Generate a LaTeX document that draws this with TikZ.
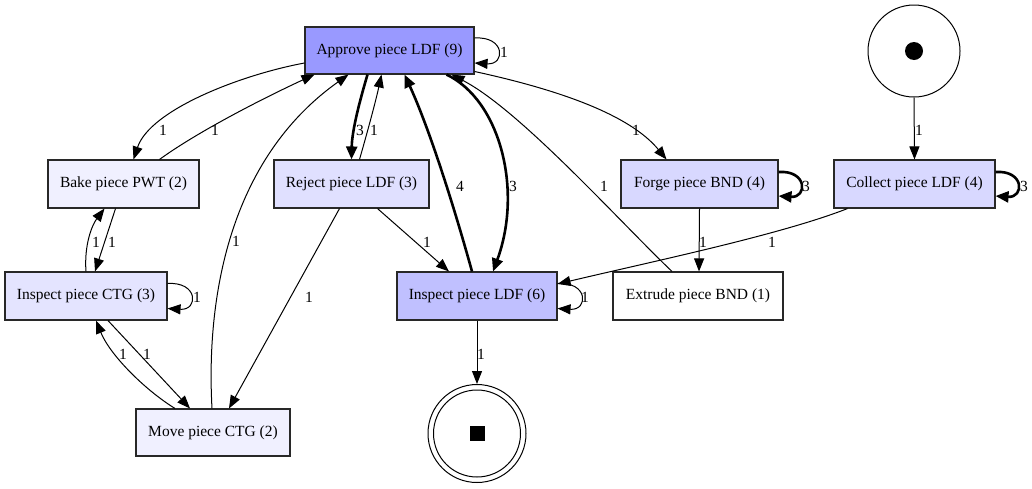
\documentclass[tikz,border=0pt]{standalone}
\usepackage{fontspec}
\setmainfont{Liberation Serif}
\usetikzlibrary{arrows.meta}
\definecolor{cA}{RGB}{153,153,255}
\definecolor{cIL}{RGB}{192,192,255}
\definecolor{cF}{RGB}{216,216,255}
\definecolor{cR}{RGB}{224,224,255}
\definecolor{cIC}{RGB}{228,228,255}
\definecolor{cB}{RGB}{240,240,255}
\definecolor{bord}{RGB}{40,40,40}
\begin{document}
\begin{tikzpicture}[x=1pt,y=1pt,
  font=\fontsize{15.5}{18}\selectfont,
  trans/.style={draw=bord,line width=1.1pt,rectangle,inner sep=0pt,minimum height=48pt},
  edge/.style={line width=1pt,-{Triangle[length=13pt,width=10pt]}},
  thick edge/.style={line width=2.6pt,-{Triangle[length=13pt,width=11pt]}},
  lbl/.style={inner sep=0pt}]
\useasboundingbox (0,0) rectangle (1032,-488);
\fill[white] (0,0) rectangle (1032,-488);
% transitions
\node[trans,fill=cA,minimum width=169pt,minimum height=47pt] (A) at (389.5,-50.5) {Approve piece LDF (9)};
\node[trans,fill=cB,minimum width=151pt] (B) at (123.5,-184) {Bake piece PWT (2)};
\node[trans,fill=cIC,minimum width=162pt] (IC) at (86,-296) {Inspect piece CTG (3)};
\node[trans,fill=cB,minimum width=154pt,minimum height=47pt] (M) at (213,-432.5) {Move piece CTG (2)};
\node[trans,fill=cR,minimum width=155pt] (R) at (351.5,-184) {Reject piece LDF (3)};
\node[trans,fill=cIL,minimum width=160pt] (IL) at (477,-296) {Inspect piece LDF (6)};
\node[trans,fill=cF,minimum width=157pt] (F) at (699.5,-184) {Forge piece BND (4)};
\node[trans,fill=cF,minimum width=161pt] (C) at (914.5,-184) {Collect piece LDF (4)};
\node[trans,fill=white,minimum width=170pt] (E) at (698,-296) {Extrude piece BND (1)};
% places
\node[draw,circle,line width=1pt,minimum size=92pt,inner sep=0pt] (S) at (914,-51) {};
\node[fill=black,circle,minimum size=18pt,inner sep=0pt] (Sdot) at (S.center) {};
\node[draw,circle,line width=1pt,minimum size=98pt,inner sep=0pt] (End) at (477,-433.5) {};
\node[draw,circle,line width=1pt,minimum size=87pt,inner sep=0pt] (Endin) at (End.center) {};
\node[fill=black,rectangle,minimum size=15pt,inner sep=0pt] (Endsq) at (End.center) {};
% edges
\draw[edge] ([yshift=-12.5pt]A.west) .. controls (240,-75) and (150,-110) .. ([xshift=10pt]B.north);
\draw[edge] ([xshift=36pt]B.north) .. controls (200,-130) and (270,-95) .. ([xshift=-75pt]A.south);
\draw[edge] ([xshift=-1pt]M.north) .. controls (206,-300) and (228,-160) .. ([xshift=-41pt]A.south);
\draw[thick edge] ([xshift=-22pt]A.south) .. controls (360,-100) and (352,-130) .. (R.north);
\draw[edge] ([xshift=8pt]R.north) .. controls (368,-130) and (376,-100) .. ([xshift=-8pt]A.south);
\draw[thick edge] ([xshift=-5pt]IL.north) .. controls (455,-210) and (430,-130) .. ([xshift=15pt]A.south);
\draw[thick edge] ([xshift=57pt]A.south) .. controls (500,-100) and (523,-190) .. ([xshift=16pt]IL.north);
\draw[edge] ([xshift=-26pt]E.north) .. controls (620,-222) and (520,-110) .. ([xshift=62pt]A.south);
\draw[edge] ([yshift=-21pt]A.east) .. controls (560,-90) and (630,-115) .. ([xshift=-33pt]F.north);
\draw[edge] (F.south) -- ([xshift=1pt]E.north);
\draw[edge] ([xshift=-67pt]C.south) .. controls (780,-235) and (650,-262) .. ([yshift=12pt]IL.east);
\draw[edge] (S.south) -- (C.north);
\draw[edge] ([xshift=26pt]R.south) -- ([xshift=-28pt]IL.north);
\draw[edge] ([xshift=-12pt]R.south) -- ([xshift=16pt]M.north);
\draw[edge] ([xshift=22pt]IC.south) -- ([xshift=-23pt]M.north);
\draw[edge] ([xshift=-38pt]M.north) .. controls (145,-390) and (110,-355) .. ([xshift=10pt]IC.south);
\draw[edge] ([xshift=-8pt]B.south) -- ([xshift=9pt]IC.north);
\draw[edge] (IC.north) .. controls (84,-245) and (92,-225) .. ([xshift=-19pt]B.south);
\draw[edge] (IL.south) -- (End.north);
% self loops
\draw[edge] ([yshift=12.5pt]A.east) .. controls +(31,2) and +(31,-2) .. ([yshift=-12.5pt]A.east);
\draw[edge] ([yshift=12.5pt]IC.east) .. controls +(31,2) and +(31,-2) .. ([yshift=-12.5pt]IC.east);
\draw[edge] ([yshift=12.5pt]IL.east) .. controls +(31,2) and +(31,-2) .. ([yshift=-12.5pt]IL.east);
\draw[thick edge] ([yshift=12pt]F.east) .. controls +(29,2) and +(29,-2) .. ([yshift=-12pt]F.east);
\draw[thick edge] ([yshift=12pt]C.east) .. controls +(29,2) and +(29,-2) .. ([yshift=-12pt]C.east);
% labels
\node[lbl] (l1) at (504,-52) {1};
\node[lbl] (l2) at (163,-130) {1};
\node[lbl] (l3) at (215,-130) {1};
\node[lbl] (l4) at (236,-241) {1};
\node[lbl] (l5) at (360,-130) {3};
\node[lbl] (l6) at (374,-130) {1};
\node[lbl] (l7) at (460,-186) {4};
\node[lbl] (l8) at (513,-186) {3};
\node[lbl] (l9) at (604,-186) {1};
\node[lbl] (l10) at (636,-130) {1};
\node[lbl] (l11) at (806,-186) {3};
\node[lbl] (l12) at (703,-242) {1};
\node[lbl] (l13) at (1024,-186) {3};
\node[lbl] (l14) at (772,-242) {1};
\node[lbl] (l15) at (919,-130) {1};
\node[lbl] (l16) at (427,-242) {1};
\node[lbl] (l17) at (309,-297) {1};
\node[lbl] (l18) at (585,-297) {1};
\node[lbl] (l19) at (481,-354) {1};
\node[lbl] (l20) at (197,-297) {1};
\node[lbl] (l21) at (147,-354) {1};
\node[lbl] (l22) at (123,-354) {1};
\node[lbl] (l23) at (112,-242) {1};
\node[lbl] (l24) at (96,-242) {1};
\end{tikzpicture}
\end{document}
